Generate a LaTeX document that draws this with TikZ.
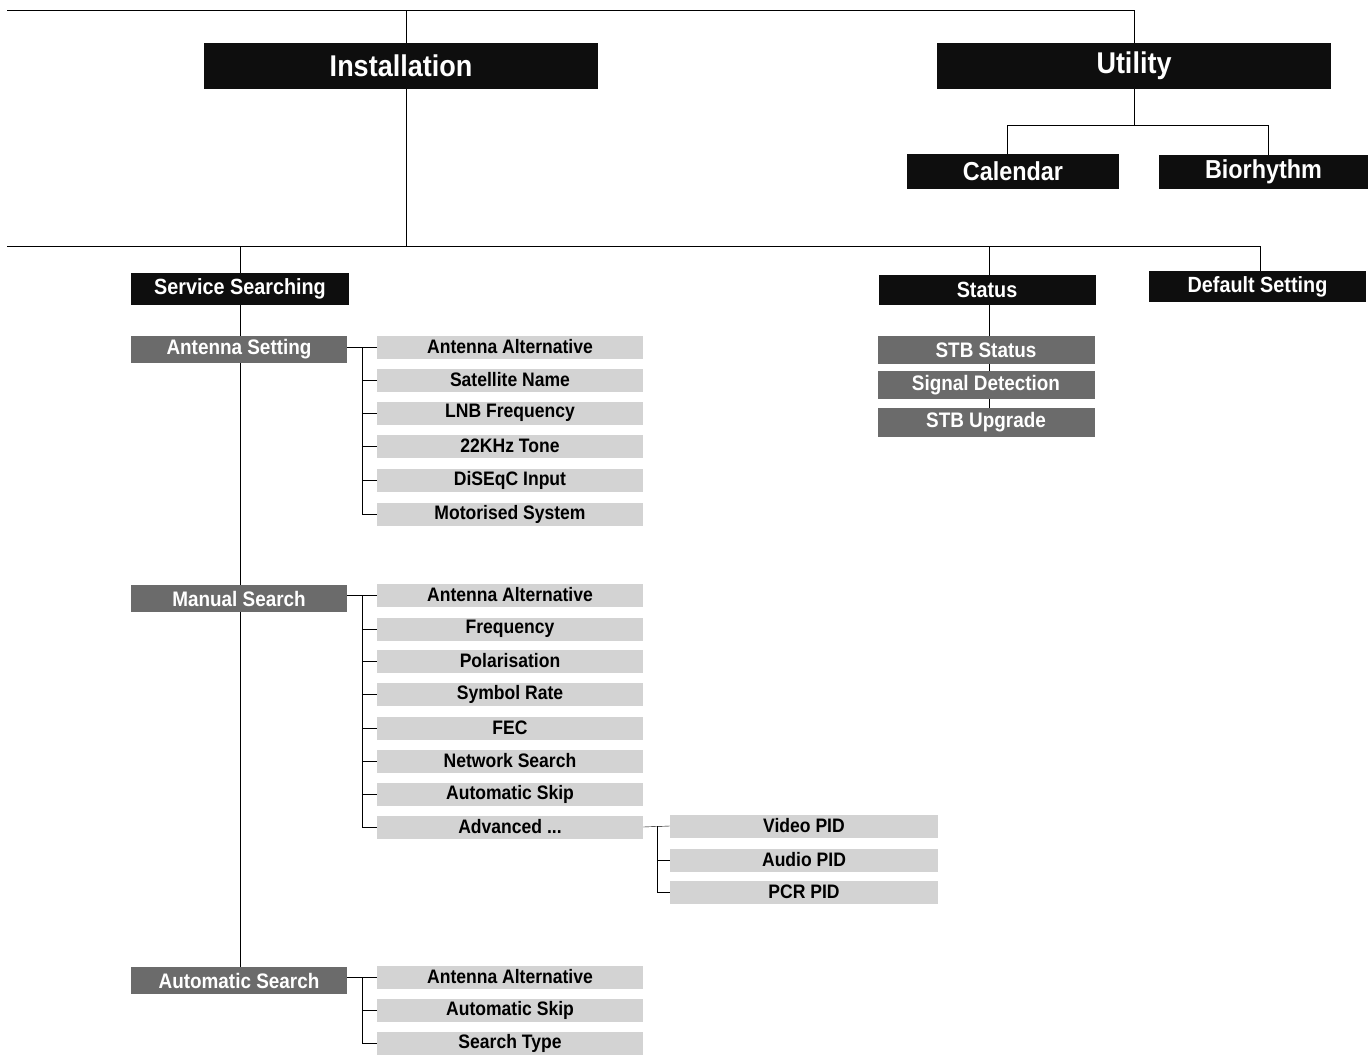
\documentclass[tikz,border=0pt]{standalone}
\usepackage{fontspec}
\setmainfont{Liberation Sans}[FakeStretch=0.9]
\usetikzlibrary{backgrounds}
\definecolor{boxblack}{HTML}{0E0E0E}
\definecolor{boxdark}{HTML}{6B6B6B}
\definecolor{boxlight}{HTML}{D3D3D3}
\definecolor{linec}{HTML}{2E2E2E}
\tikzset{
  base/.style={inner sep=0pt, font=\bfseries},
  topbox/.style={base, fill=boxblack, text=white, minimum width=394pt, minimum height=46pt, font=\fontsize{30}{32}\selectfont\bfseries},
  subbox/.style={base, fill=boxblack, text=white, minimum height=35pt, font=\fontsize{26}{28}\selectfont\bfseries},
  lvltwo/.style={base, fill=boxblack, text=white, minimum width=217pt, minimum height=31pt, font=\fontsize{22}{24}\selectfont\bfseries},
  darkbox/.style={base, fill=boxdark, text=white, minimum width=216pt, minimum height=28pt, font=\fontsize{21}{23}\selectfont\bfseries},
  leafbox/.style={base, fill=boxlight, text=black, minimum width=266pt, minimum height=23pt, font=\fontsize{19.5}{21}\selectfont\bfseries},
  conn/.style={draw=linec, line width=1.8pt},
}
\begin{document}
\begin{tikzpicture}[x=1pt,y=-1pt]
\useasboundingbox (0,0) rectangle (1371,1060);
% top level
\node[topbox] (inst) at (401,66) {Installation};
\node[topbox] (util) at (1134,66) {Utility};
\node[subbox, minimum width=212pt] (cal) at (1013,171.5) {Calendar};
\node[subbox, minimum width=209pt, minimum height=34pt] (bio) at (1263.5,172) {Biorhythm};
\coordinate (topL) at (7,10);
\coordinate (midL) at (7,246);
\coordinate (instx) at (406,66);
\coordinate (ub) at (1134,125);
\coordinate (calx) at (1007,125);
\coordinate (biox) at (1268,125);
% second level
\node[lvltwo, minimum width=218pt, minimum height=32pt] (ss) at (240,289) {Service Searching};
\node[lvltwo, minimum height=30pt] (status) at (987,290) {Status};
\node[lvltwo] (dflt) at (1257.5,286.5) {Default Setting};
\coordinate (statx) at (989,290);
\coordinate (dfltx) at (1260,286.5);
% status children
\node[darkbox, minimum width=217pt] (stbs) at (986,350) {STB Status};
\node[darkbox, minimum width=217pt] (sigd) at (986,385) {Signal Detection};
\node[darkbox, minimum width=217pt, minimum height=29pt] (stbu) at (986,422.5) {STB Upgrade};
% service searching children
\node[darkbox, minimum height=27pt] (ants) at (239,349.5) {Antenna Setting};
\node[darkbox, minimum height=27pt] (mans) at (239,598.5) {Manual Search};
\node[darkbox, minimum height=27pt] (auts) at (239,980.5) {Automatic Search};
% antenna setting leaves
\node[leafbox] (a1) at (510,347) {Antenna Alternative};
\node[leafbox] (a2) at (510,380) {Satellite Name};
\node[leafbox] (a3) at (510,413) {LNB Frequency};
\node[leafbox] (a4) at (510,446) {22KHz Tone};
\node[leafbox] (a5) at (510,480) {DiSEqC Input};
\node[leafbox] (a6) at (510,514) {Motorised System};
% manual search leaves
\node[leafbox] (m1) at (510,595) {Antenna Alternative};
\node[leafbox] (m2) at (510,629) {Frequency};
\node[leafbox] (m3) at (510,661) {Polarisation};
\node[leafbox] (m4) at (510,694) {Symbol Rate};
\node[leafbox] (m5) at (510,728) {FEC};
\node[leafbox] (m6) at (510,761) {Network Search};
\node[leafbox] (m7) at (510,794) {Automatic Skip};
\node[leafbox] (m8) at (510,827) {Advanced ...};
% advanced leaves
\node[leafbox, minimum width=268pt] (v1) at (804,826) {Video PID};
\node[leafbox, minimum width=268pt] (v2) at (804,860) {Audio PID};
\node[leafbox, minimum width=268pt] (v3) at (804,892) {PCR PID};
% automatic search leaves
\node[leafbox] (s1) at (510,977) {Antenna Alternative};
\node[leafbox] (s2) at (510,1010) {Automatic Skip};
\node[leafbox] (s3) at (510,1043) {Search Type};
% connectors (drawn behind the boxes)
\begin{scope}[on background layer, conn]
  \draw (topL) -| (util.north);
  \draw (inst.north -| instx) -- (instx |- topL);
  \draw (inst.south -| instx) -- (instx |- midL);
  \draw (midL) -| (dflt.north -| dfltx);
  \draw (ss.north) -- (ss.north |- midL);
  \draw (status.north -| statx) -- (statx |- midL);
  \draw (util.south) -- (ub);
  \draw (cal.north -| calx) -- (calx) -- (biox) -- (bio.north -| biox);
  \draw (status.south -| statx) -- (stbu.north -| statx);
  \draw (ss.south) -- (auts.north -| ss.south);
  % antenna setting bracket
  \draw (a1.west -| ants.east) -- (a1.west);
  \draw ([xshift=-15pt]a1.west) |- (a6.west);
  \foreach \n in {a2,a3,a4,a5} \draw ([xshift=-15pt]\n.west) -- (\n.west);
  % manual search bracket
  \draw (m1.west -| mans.east) -- (m1.west);
  \draw ([xshift=-15pt]m1.west) |- (m8.west);
  \foreach \n in {m2,m3,m4,m5,m6,m7} \draw ([xshift=-15pt]\n.west) -- (\n.west);
  % advanced bracket
  \draw (m8.east) -- (v1.west);
  \draw ([xshift=-13pt]v1.west) |- (v3.west);
  \draw ([xshift=-13pt]v2.west) -- (v2.west);
  % automatic search bracket
  \draw (s1.west -| auts.east) -- (s1.west);
  \draw ([xshift=-15pt]s1.west) |- (s3.west);
  \draw ([xshift=-15pt]s2.west) -- (s2.west);
\end{scope}
\end{tikzpicture}
\end{document}
